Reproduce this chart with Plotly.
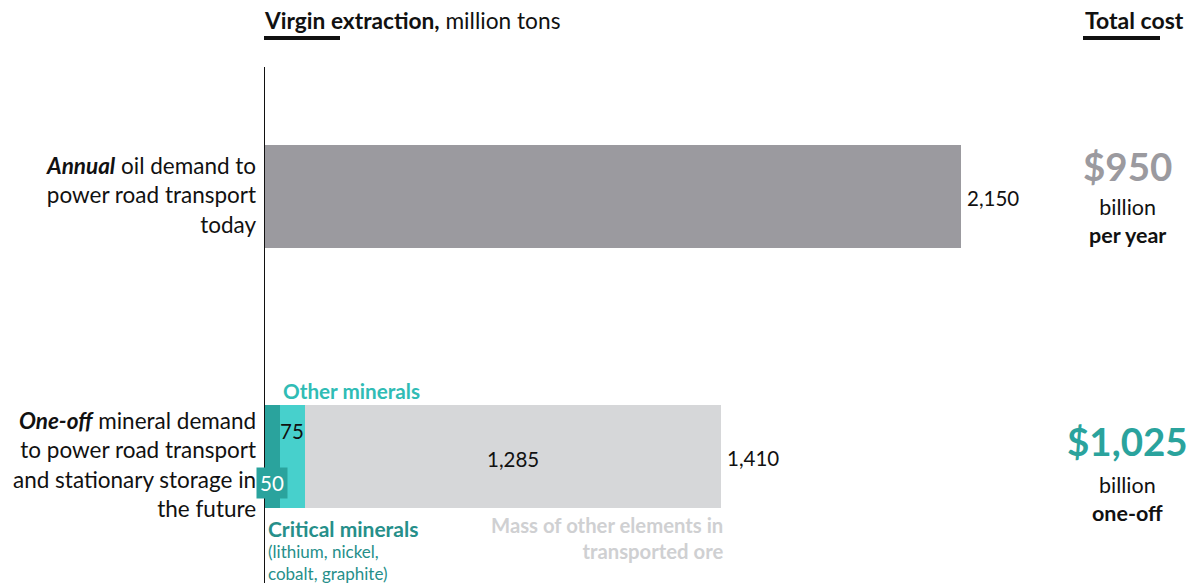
import plotly.graph_objects as go

# ---- data ----
rows = [0, 1]
oil_demand = [2150, None]
critical_minerals = [None, 50]
other_minerals = [None, 75]
other_elements = [None, 1285]
row_totals = [2150, 1410]
row_labels = [
    "<b><i>Annual</i></b> oil demand to<br>power road transport<br>today",
    "<b><i>One-off</i></b> mineral demand<br>to power road transport<br>and stationary storage in<br>the future",
]
cost_values = ["$950", "$1,025"]
cost_units = ["billion", "billion"]
cost_terms = ["per year", "one-off"]

FONT = "Lato, 'Open Sans', sans-serif"
GREY_BAR = "#9b9a9f"
TEAL_DARK = "#2aa39d"
TEAL_LIGHT = "#47d0cc"
GREY_LIGHT = "#d6d7d9"
TEXT = "#111111"

BAR_W = 0.396
label_shift = [2, -8]       # vertical nudge of the row labels, px (positive = up)
cost_shift = [0, 15]        # downward nudge of the cost figures, px
unit_shift = [-3, 15]       # downward nudge of the unit lines, px

fig = go.Figure()
for vals, col, name in [
    (oil_demand, GREY_BAR, "Oil"),
    (critical_minerals, TEAL_DARK, "Critical minerals"),
    (other_minerals, TEAL_LIGHT, "Other minerals"),
    (other_elements, GREY_LIGHT, "Other elements"),
]:
    fig.add_trace(go.Bar(
        x=vals, y=rows, orientation="h", width=BAR_W,
        marker=dict(color=col, line=dict(width=0)),
        name=name, showlegend=False, hoverinfo="skip",
    ))

ann = []
# category labels at left
for r, lab, dy in zip(rows, row_labels, label_shift):
    ann.append(dict(x=0, y=r, xref="x", yref="y", text=lab, showarrow=False,
                    xanchor="right", yanchor="middle", align="right", xshift=-6, yshift=dy,
                    font=dict(size=22.5, color=TEXT, family=FONT)))
# totals at bar ends
for r, t in zip(rows, row_totals):
    ann.append(dict(x=t, y=r, xref="x", yref="y", text=f"{t:,}", showarrow=False,
                    xanchor="left", yanchor="middle", xshift=4, yshift=-1,
                    font=dict(size=20.5, color=TEXT, family=FONT)))
# segment labels on the mineral row
crit = critical_minerals[1]
oth = other_minerals[1]
ore = other_elements[1]
ann.append(dict(x=crit / 2, y=1, xref="x", yref="y", text=f"{crit}", showarrow=False,
                xanchor="center", yanchor="middle", yshift=-26, bgcolor=TEAL_DARK,
                borderpad=3, font=dict(size=20.5, color="white", family=FONT)))
ann.append(dict(x=crit + oth / 2, y=1, xref="x", yref="y", text=f"{oth}", showarrow=False,
                xanchor="center", yanchor="middle", yshift=26,
                font=dict(size=20.5, color=TEXT, family=FONT)))
ann.append(dict(x=crit + oth + ore / 2, y=1, xref="x", yref="y", text=f"{ore:,}",
                showarrow=False, xanchor="center", yanchor="middle", yshift=-2,
                font=dict(size=20.5, color=TEXT, family=FONT)))
# segment captions
ann.append(dict(x=crit + 10, y=1, xref="x", yref="y", text="<b>Other minerals</b>",
                showarrow=False, xanchor="left", yanchor="middle", yshift=66, xshift=-2,
                font=dict(size=20.7, color="#30bcb5", family=FONT)))
ann.append(dict(x=0, y=1, xref="x", yref="y", text="<b>Critical minerals</b>",
                showarrow=False, xanchor="left", yanchor="middle", xshift=2, yshift=-72,
                font=dict(size=21, color="#268f8a", family=FONT)))
ann.append(dict(x=0, y=1, xref="x", yref="y", text="(lithium, nickel,<br>cobalt, graphite)",
                showarrow=False, xanchor="left", yanchor="top", align="left", xshift=2,
                yshift=-82, font=dict(size=17, color="#268f8a", family=FONT)))
ann.append(dict(x=row_totals[1], y=1, xref="x", yref="y",
                text="<b>Mass of other elements in<br>transported ore</b>",
                showarrow=False, xanchor="right", yanchor="top", align="right", yshift=-54,
                xshift=4, font=dict(size=20.3, color="#cfd0d2", family=FONT)))
# cost column
for r, v, u, t, c, dy, du in zip(rows, cost_values, cost_units, cost_terms,
                                 [GREY_BAR, TEAL_DARK], cost_shift, unit_shift):
    ann.append(dict(x=0.9345, y=r, xref="paper", yref="y", text=f"<b>{v}</b>", showarrow=False,
                    xanchor="center", yanchor="middle", yshift=31 - dy,
                    font=dict(size=38.5, color=c, family=FONT)))
    ann.append(dict(x=0.9345, y=r, xref="paper", yref="y",
                    text=f"{u}<br><b>{t}</b>", showarrow=False,
                    xanchor="center", yanchor="top", yshift=2 - du,
                    font=dict(size=21.5, color=TEXT, family=FONT)))
# headers
ann.append(dict(x=0, y=1, xref="x", yref="paper", text="<b>Virgin extraction,</b> million tons",
                showarrow=False, xanchor="left", yanchor="middle", yshift=-20, xshift=-2,
                font=dict(size=22.7, color=TEXT, family=FONT)))
ann.append(dict(x=1, y=1, xref="paper", yref="paper", text="<b>Total cost</b>",
                showarrow=False, xanchor="right", yanchor="middle", yshift=-20, xshift=-2,
                font=dict(size=23, color=TEXT, family=FONT)))

shapes = [
    # baseline of the bars
    dict(type="line", xref="x", yref="paper", x0=0, x1=0, y0=0, y1=(583 - 67) / 583,
         line=dict(color=TEXT, width=2)),
    # header underlines
    dict(type="line", xref="paper", yref="paper", x0=0, x1=76 / 924,
         y0=(583 - 38) / 583, y1=(583 - 38) / 583, line=dict(color=TEXT, width=4)),
    dict(type="line", xref="paper", yref="paper", x0=(1083 - 264) / 924, x1=(1160 - 264) / 924,
         y0=(583 - 38) / 583, y1=(583 - 38) / 583, line=dict(color=TEXT, width=4)),
]

fig.update_layout(
    width=1188, height=583,
    margin=dict(l=264, r=0, t=0, b=0),
    paper_bgcolor="white", plot_bgcolor="white",
    barmode="stack",
    xaxis=dict(range=[0, 924 / 0.3242], visible=False, fixedrange=True),
    yaxis=dict(range=[1 + (583 - 456.5) / 260, -196.5 / 260], visible=False, fixedrange=True),
    annotations=ann, shapes=shapes,
    font=dict(family=FONT),
)

fig.write_html("out.html")
